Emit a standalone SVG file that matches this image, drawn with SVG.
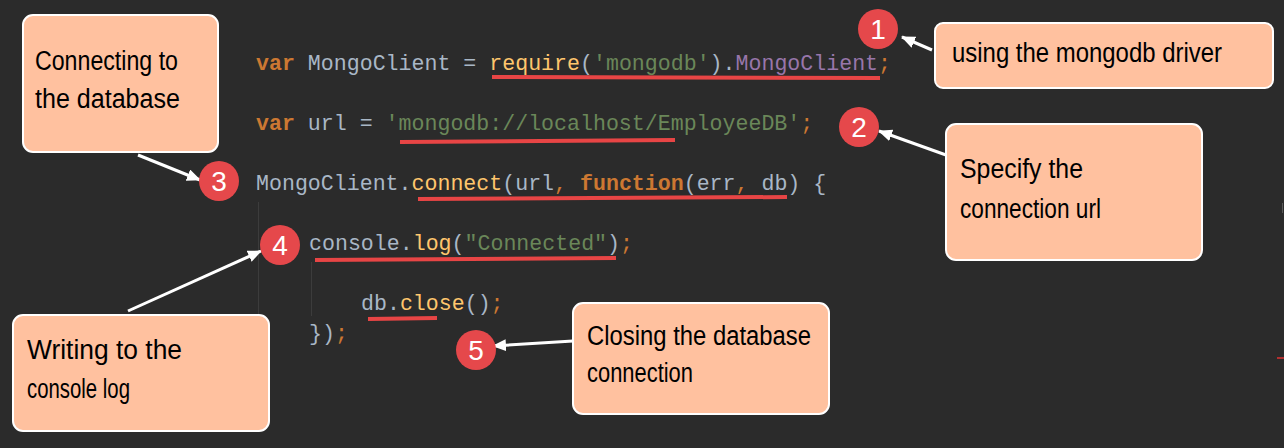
<svg xmlns="http://www.w3.org/2000/svg" width="1284" height="448" viewBox="0 0 1284 448">
<defs>
<marker id="ah" markerUnits="userSpaceOnUse" markerWidth="16" markerHeight="14" refX="13" refY="6" orient="auto">
<path d="M0,0 L14,6 L0,12 Z" fill="#ffffff"/>
</marker>
<style>
.code{font-family:"Liberation Mono","DejaVu Sans Mono",monospace;font-size:21.6px;fill:#a9b7c6;white-space:pre}
.kw{fill:#cc7832;font-weight:bold}
.pn{fill:#cc7832}
.fn{fill:#ffc66d}
.st{fill:#6a8759}
.pr{fill:#9876aa}
.ul{stroke:#e84545;stroke-width:4;stroke-linecap:butt}
.guide{stroke:#3c3c3c;stroke-width:1}
.box{fill:#ffc19f;stroke:#ffffff;stroke-width:2}
.hand{font-family:"Liberation Sans Narrow","Liberation Sans",sans-serif;font-size:27px;fill:#000000}
.num circle{fill:#e5484b}
.num text{font-family:"Liberation Sans",Arial,sans-serif;font-size:28px;fill:#ffffff;text-anchor:middle}
.conn line{stroke:#ffffff;stroke-width:3;marker-end:url(#ah)}
</style>
</defs>
<rect x="0" y="0" width="1284" height="448" fill="#2b2b2b"/>
<line x1="1282.5" y1="203" x2="1282.5" y2="213" stroke="#5a5a5a" stroke-width="1"/>
<line x1="1277" y1="358" x2="1284" y2="358" stroke="#b03030" stroke-width="2"/>

<g id="code">
<line class="guide" x1="258.5" y1="202" x2="258.5" y2="338"/>
<line class="guide" x1="311.5" y1="262" x2="311.5" y2="316"/>
<text class="code" x="256" y="70"><tspan class="kw">var</tspan> MongoClient = <tspan class="fn">require</tspan>(<tspan class="st">'mongodb'</tspan>).<tspan class="pr">MongoClient</tspan><tspan class="pn">;</tspan></text>
<text class="code" x="256" y="130"><tspan class="kw">var</tspan> url = <tspan class="st">'mongodb://localhost/EmployeeDB'</tspan><tspan class="pn">;</tspan></text>
<text class="code" x="256" y="190">MongoClient.<tspan class="fn">connect</tspan>(url<tspan class="pn">, </tspan><tspan class="kw">function</tspan>(err<tspan class="pn">, </tspan>db) {</text>
<text class="code" x="309" y="250">console.<tspan class="fn">log</tspan>(<tspan class="st">"Connected"</tspan>)<tspan class="pn">;</tspan></text>
<text class="code" x="361" y="310">db.<tspan class="fn">close</tspan>()<tspan class="pn">;</tspan></text>
<text class="code" x="309" y="340">})<tspan class="pn">;</tspan></text>
<line class="ul" x1="492" y1="77" x2="880" y2="78"/>
<line class="ul" x1="400" y1="142" x2="675" y2="140"/>
<line class="ul" x1="418" y1="199" x2="787" y2="197"/>
<line class="ul" x1="315" y1="260" x2="616" y2="258"/>
<line class="ul" x1="368" y1="319" x2="437" y2="318"/>
</g>

<g id="connectors" class="conn">
<line x1="932" y1="50" x2="902" y2="37"/>
<line x1="946" y1="155" x2="879" y2="131"/>
<line x1="138" y1="155" x2="200" y2="180"/>
<line x1="128" y1="311" x2="261" y2="251"/>
<line x1="573" y1="341" x2="493" y2="346"/>
</g>

<g id="box-connecting">
<rect class="box" x="23" y="15" width="195" height="137" rx="10"/>
<text class="hand" x="35" y="70" textLength="143" lengthAdjust="spacingAndGlyphs">Connecting to</text>
<text class="hand" x="35" y="108" textLength="145" lengthAdjust="spacingAndGlyphs">the database</text>
</g>
<g id="box-driver">
<rect class="box" x="935" y="23" width="338" height="65" rx="8"/>
<text class="hand" x="952" y="62" textLength="270" lengthAdjust="spacingAndGlyphs">using the mongodb driver</text>
</g>
<g id="box-url">
<rect class="box" x="946" y="124" width="256" height="136" rx="10"/>
<text class="hand" x="960" y="178" textLength="123" lengthAdjust="spacingAndGlyphs">Specify the</text>
<text class="hand" x="960" y="218" textLength="141" lengthAdjust="spacingAndGlyphs">connection url</text>
</g>
<g id="box-console">
<rect class="box" x="13" y="315" width="256" height="116" rx="10"/>
<text class="hand" x="27" y="359" textLength="155" lengthAdjust="spacingAndGlyphs">Writing to the</text>
<text class="hand" x="27" y="398" textLength="103" lengthAdjust="spacingAndGlyphs">console log</text>
</g>
<g id="box-closing">
<rect class="box" x="573" y="303" width="256" height="111" rx="10"/>
<text class="hand" x="587" y="345" textLength="224" lengthAdjust="spacingAndGlyphs">Closing the database</text>
<text class="hand" x="587" y="382" textLength="106" lengthAdjust="spacingAndGlyphs">connection</text>
</g>

<g id="num-1" class="num"><circle cx="878" cy="29" r="20"/><text x="878" y="39">1</text></g>
<g id="num-2" class="num"><circle cx="859" cy="127" r="20"/><text x="859" y="137">2</text></g>
<g id="num-3" class="num"><circle cx="219" cy="181" r="20"/><text x="219" y="191">3</text></g>
<g id="num-4" class="num"><circle cx="280" cy="245" r="20"/><text x="280" y="255">4</text></g>
<g id="num-5" class="num"><circle cx="476" cy="350" r="20"/><text x="476" y="360">5</text></g>
</svg>
